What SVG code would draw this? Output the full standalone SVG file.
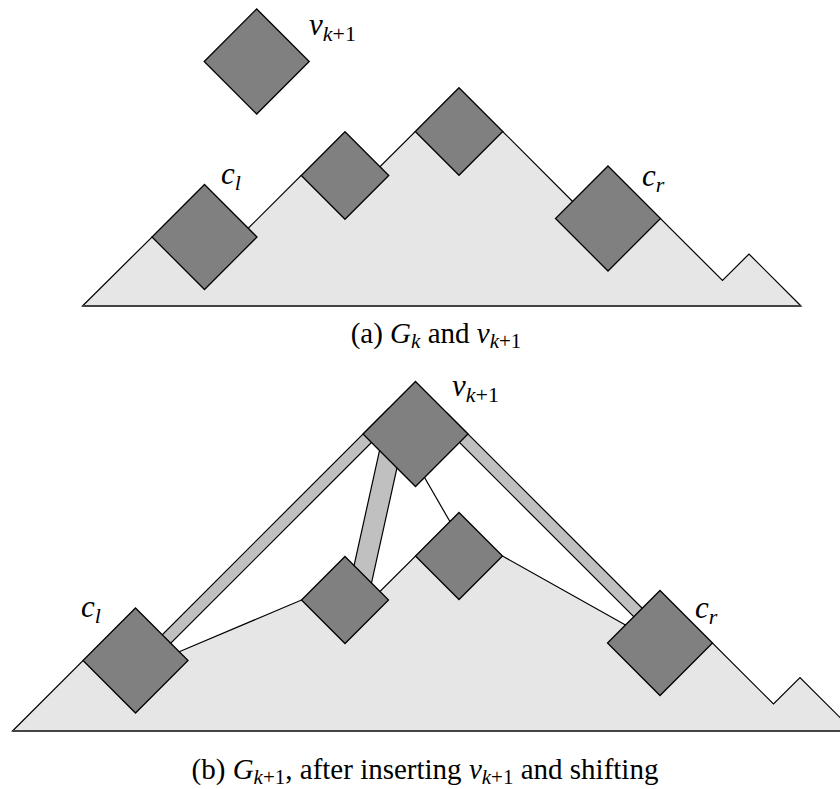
<svg xmlns="http://www.w3.org/2000/svg" width="840" height="789" viewBox="0 0 840 789">
<style>
.region{fill:#e6e6e6;stroke:#000;stroke-width:1.2;stroke-linejoin:miter}
.base{stroke:#444;stroke-width:2.2;fill:none}
.node{fill:#808080;stroke:#000;stroke-width:1.3}
.band{fill:#c0c0c0;stroke:#000;stroke-width:1.2}
.thin{stroke:#000;stroke-width:1.2;fill:none}
.lbl{font-family:"Liberation Serif","DejaVu Serif",serif;font-size:31px;fill:#000}
.cap{font-family:"Liberation Serif","DejaVu Serif",serif;font-size:29px;fill:#000}
.it{font-style:italic}
</style>
<rect width="840" height="789" fill="#fff"/>

<!-- (a) -->
<g id="region-a">
<polygon class="region" points="82.5,306 152,237 204.5,237 248.25,228.25 301,175.5 345,175.5 380,166.75 415.25,131.5 459,131.5 502.75,131.5 572.6,201.4 608,218.5 660.5,218.5 722.5,280.5 749,254 801,306"/>
<line class="base" x1="82.5" y1="306" x2="801" y2="306"/>
</g>
<g id="a-v">
<polygon class="node" points="256.7,9 309.2,61.5 256.7,114 204.2,61.5"/>
<text class="lbl" x="309" y="35"><tspan class="it">v</tspan><tspan font-size="22" dy="6"><tspan class="it">k</tspan>+1</tspan></text>
</g>
<g id="a-cl">
<polygon class="node" points="204.5,184.5 257,237 204.5,289.5 152,237"/>
<text class="lbl" x="221" y="184"><tspan class="it">c</tspan><tspan class="it" font-size="22" dy="6">l</tspan></text>
</g>
<g id="a-n2">
<polygon class="node" points="345,131.75 388.75,175.5 345,219.25 301.25,175.5"/>
</g>
<g id="a-n3">
<polygon class="node" points="459,87.75 502.75,131.5 459,175.25 415.25,131.5"/>
</g>
<g id="a-cr">
<polygon class="node" points="608,166 660.5,218.5 608,271 555.5,218.5"/>
<text class="lbl" x="642" y="186"><tspan class="it">c</tspan><tspan class="it" font-size="22" dy="6">r</tspan></text>
</g>
<text class="cap" x="436" y="343" text-anchor="middle">(a) <tspan class="it">G</tspan><tspan class="it" font-size="21" dy="5">k</tspan><tspan dy="-5"> and </tspan><tspan class="it">v</tspan><tspan font-size="21" dy="5"><tspan class="it">k</tspan>+1</tspan></text>

<!-- (b) -->
<g id="region-b">
<polygon class="region" points="12.5,731 83,660.5 135.5,660.5 179.2,651.7 301.5,600 345,600 380,591.5 415.5,556 459,556 502.5,556 625.5,625 660,643 712.5,643 773.5,704 800,677.5 853.5,731"/>
<line class="base" x1="12.5" y1="731" x2="840" y2="731"/>
</g>
<g id="connectors">
<polygon class="band" points="388.5,408.5 397,417 162,652 153.5,643.5"/>
<polygon class="band" points="447,413 438.5,421.5 641,624 649.5,615.5"/>
<polygon class="band" points="381.7,440.7 402,445.2 369.6,591.6 349.3,587.1"/>
<line class="thin" x1="410" y1="452.3" x2="460" y2="539"/>
</g>
<g id="b-cl">
<polygon class="node" points="135.5,608 188,660.5 135.5,713 83,660.5"/>
<text class="lbl" x="81" y="617"><tspan class="it">c</tspan><tspan class="it" font-size="22" dy="6">l</tspan></text>
</g>
<g id="b-n2">
<polygon class="node" points="345,556.5 388.5,600 345,643.5 301.5,600"/>
</g>
<g id="b-n3">
<polygon class="node" points="459,512.5 502.5,556 459,599.5 415.5,556"/>
</g>
<g id="b-v">
<polygon class="node" points="415.5,381.5 468,434 415.5,486.5 363,434"/>
<text class="lbl" x="452" y="396"><tspan class="it">v</tspan><tspan font-size="22" dy="6"><tspan class="it">k</tspan>+1</tspan></text>
</g>
<g id="b-cr">
<polygon class="node" points="660,590.5 712.5,643 660,695.5 607.5,643"/>
<text class="lbl" x="695" y="618"><tspan class="it">c</tspan><tspan class="it" font-size="22" dy="6">r</tspan></text>
</g>
<text class="cap" x="425" y="779" text-anchor="middle">(b) <tspan class="it">G</tspan><tspan font-size="21" dy="5"><tspan class="it">k</tspan>+1</tspan><tspan dy="-5">, after inserting </tspan><tspan class="it">v</tspan><tspan font-size="21" dy="5"><tspan class="it">k</tspan>+1</tspan><tspan dy="-5"> and shifting</tspan></text>
</svg>
